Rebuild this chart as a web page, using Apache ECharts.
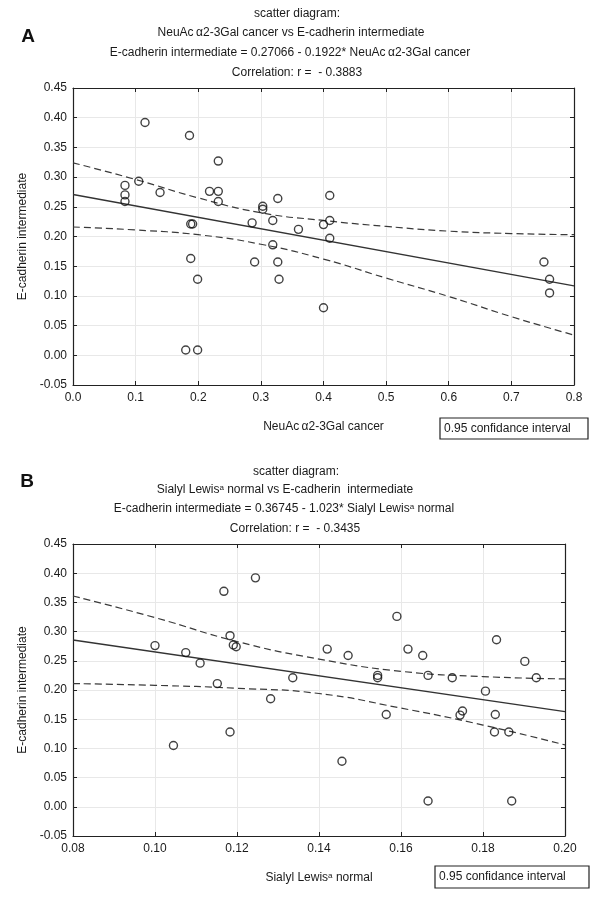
<!DOCTYPE html>
<html><head><meta charset="utf-8">
<script src="https://cdn.jsdelivr.net/npm/echarts/dist/echarts.min.js"></script>
<style>html,body{margin:0;padding:0;background:#fff}#c{width:600px;height:902px}</style>
</head><body><div id="c"></div>
<script>
// ---------- Data: panel A ----------
const aX = [0.115,0.186,0.232,0.083,0.105,0.083,0.083,0.139,0.218,0.232,0.232,0.188,0.191,0.188,0.199,0.180,0.199,0.303,0.303,0.327,0.286,0.319,0.319,0.290,0.327,0.329,0.360,0.410,0.400,0.410,0.410,0.400,0.752,0.761,0.761];
const aY = [0.392,0.370,0.327,0.286,0.293,0.270,0.259,0.274,0.276,0.276,0.259,0.221,0.221,0.163,0.128,0.009,0.009,0.251,0.246,0.264,0.223,0.227,0.186,0.157,0.157,0.128,0.212,0.269,0.220,0.227,0.197,0.080,0.157,0.128,0.105];
const regAX = [0, 0.8];
const regAY = [0.2707, 0.1169];
const bandAX  = [0, 0.1, 0.2, 0.3, 0.4, 0.5, 0.6, 0.7, 0.8];
const bandAUp = [0.324, 0.296, 0.265, 0.240, 0.227, 0.217, 0.209, 0.205, 0.203];
const bandALo = [0.216, 0.211, 0.203, 0.187, 0.162, 0.130, 0.099, 0.065, 0.034];

// ---------- Data: panel B ----------
const bX = [0.1000,0.1045,0.1075,0.1110,0.1152,0.1168,0.1183,0.1191,0.1198,0.1183,0.1245,0.1282,0.1336,0.1420,0.1471,0.1456,0.1543,0.1543,0.1564,0.1590,0.1617,0.1653,0.1666,0.1666,0.1725,0.1744,0.1750,0.1806,0.1830,0.1828,0.1833,0.1863,0.1870,0.1902,0.1930];
const bY = [0.276,0.105,0.264,0.246,0.211,0.369,0.293,0.277,0.274,0.128,0.392,0.185,0.221,0.270,0.259,0.078,0.225,0.221,0.158,0.326,0.270,0.259,0.225,0.010,0.221,0.157,0.164,0.198,0.158,0.128,0.286,0.128,0.010,0.249,0.221];
const regBX = [0.08, 0.20];
const regBY = [0.2856, 0.1628];
const bandBX  = [0.08, 0.10, 0.12, 0.14, 0.16, 0.18, 0.20];
const bandBUp = [0.361, 0.324, 0.283, 0.253, 0.232, 0.223, 0.219];
const bandBLo = [0.211, 0.208, 0.203, 0.194, 0.169, 0.140, 0.106];

// ---------- Axis ticks ----------
const yTicks = {min: -0.05, max: 0.45, interval: 0.05};
const xTicksA = {min: 0, max: 0.8, interval: 0.1};
const xTicksB = {min: 0.08, max: 0.20, interval: 0.02};

const titleA = ['scatter diagram:', 'NeuAc\u2009α2-3Gal cancer vs E-cadherin intermediate',
  'E-cadherin intermediate = 0.27066 - 0.1922* NeuAc\u2009α2-3Gal cancer', 'Correlation: r =  - 0.3883'];
const titleB = ['scatter diagram:', 'Sialyl Lewis{sup|a} normal vs E-cadherin  intermediate',
  'E-cadherin intermediate = 0.36745 - 1.023* Sialyl Lewis{sup|a} normal', 'Correlation: r =  - 0.3435'];
const ciLabel = '0.95 confidance interval';

const FONT = '"Liberation Sans", Arial, Helvetica, sans-serif';
const TXT = '#1a1a1a';
const zip = (xs, ys) => xs.map((x, i) => [x, ys[i]]);
const supRich = {sup: {fontSize: 8, fontFamily: FONT, color: TXT, verticalAlign: 'top', padding: [0, 0, 3, 0]}};

function xAxesFor(g, t, digits, name) {
  return [{
    type: 'value', gridIndex: g, min: t.min, max: t.max, interval: t.interval, position: 'bottom',
    axisLine: {show: true, onZero: false, lineStyle: {color: '#222', width: 1.2}},
    axisTick: {show: true, inside: true, length: 4, lineStyle: {color: '#222'}},
    axisLabel: {margin: 7, fontSize: 12, color: TXT, fontFamily: FONT, formatter: v => v.toFixed(digits)},
    splitLine: {show: true, lineStyle: {color: '#e8e8e8', width: 1}},
    name: name, nameLocation: 'middle', nameGap: 36,
    nameTextStyle: {fontSize: 12, color: TXT, fontFamily: FONT, rich: supRich}
  }, {
    type: 'value', gridIndex: g, min: t.min, max: t.max, interval: t.interval, position: 'top',
    axisLine: {show: true, onZero: false, lineStyle: {color: '#222', width: 1.2}},
    axisTick: {show: true, inside: true, length: 4, lineStyle: {color: '#222'}},
    axisLabel: {show: false}, splitLine: {show: false}
  }];
}
function yAxesFor(g) {
  return [{
    type: 'value', gridIndex: g, min: yTicks.min, max: yTicks.max, interval: yTicks.interval, position: 'left',
    axisLine: {show: true, onZero: false, lineStyle: {color: '#222', width: 1.2}},
    axisTick: {show: true, inside: true, length: 4, lineStyle: {color: '#222'}},
    axisLabel: {margin: 6, fontSize: 12, color: TXT, fontFamily: FONT, formatter: v => v.toFixed(2)},
    splitLine: {show: true, lineStyle: {color: '#e8e8e8', width: 1}},
    name: 'E-cadherin intermediate', nameLocation: 'middle', nameGap: 44,
    nameTextStyle: {fontSize: 12, color: TXT, fontFamily: FONT}
  }, {
    type: 'value', gridIndex: g, min: yTicks.min, max: yTicks.max, interval: yTicks.interval, position: 'right',
    axisLine: {show: true, onZero: false, lineStyle: {color: '#222', width: 1.2}},
    axisTick: {show: true, inside: true, length: 4, lineStyle: {color: '#222'}},
    axisLabel: {show: false}, splitLine: {show: false}
  }];
}

function seriesFor(xi, yi, px, py, rx, ry, bx, bu, bl) {
  const dash = {color: '#3a3a3a', width: 1.2, type: [7, 4]};
  return [
    {type: 'line', xAxisIndex: xi, yAxisIndex: yi, name: ciLabel, data: zip(bx, bu), symbol: 'none',
     smooth: 0.5, lineStyle: dash, z: 2, silent: true},
    {type: 'line', xAxisIndex: xi, yAxisIndex: yi, name: ciLabel, data: zip(bx, bl), symbol: 'none',
     smooth: 0.5, lineStyle: dash, z: 2, silent: true},
    {type: 'line', xAxisIndex: xi, yAxisIndex: yi, name: 'regression', data: zip(rx, ry), symbol: 'none',
     lineStyle: {color: '#333', width: 1.3}, z: 3, silent: true},
    {type: 'scatter', xAxisIndex: xi, yAxisIndex: yi, name: 'data', data: zip(px, py),
     symbol: 'circle', symbolSize: 8,
     itemStyle: {color: 'rgba(255,255,255,0)', borderColor: '#111', borderWidth: 1.4}, z: 5}
  ];
}

function titleTexts(lines, ys, xs) {
  return lines.map((t, i) => ({
    type: 'text', x: xs[i], y: ys[i], silent: true,
    style: {text: t, fill: TXT, fontSize: 12, fontFamily: FONT, align: 'center', verticalAlign: 'middle', rich: supRich}
  }));
}
function ciBox(x, y, w, h) {
  return [
    {type: 'rect', shape: {x: x, y: y, width: w, height: h}, silent: true,
     style: {fill: '#fff', stroke: '#222', lineWidth: 1.2}},
    {type: 'text', x: x + 4, y: y + h / 2, silent: true,
     style: {text: ciLabel, fill: TXT, fontSize: 12, fontFamily: FONT, align: 'left', verticalAlign: 'middle'}}
  ];
}

const chart = echarts.init(document.getElementById('c'), null, {renderer: 'canvas', width: 600, height: 902});
chart.setOption({
  backgroundColor: '#fff',
  animation: false,
  grid: [
    {left: 73, top: 88, width: 501, height: 297},
    {left: 73, top: 544, width: 492, height: 292}
  ],
  xAxis: [...xAxesFor(0, xTicksA, 1, 'NeuAc\u2009α2-3Gal cancer'), ...xAxesFor(1, xTicksB, 2, 'Sialyl Lewis{sup|a} normal')],
  yAxis: [...yAxesFor(0), ...yAxesFor(1)],
  series: [
    ...seriesFor(0, 0, aX, aY, regAX, regAY, bandAX, bandAUp, bandALo),
    ...seriesFor(2, 2, bX, bY, regBX, regBY, bandBX, bandBUp, bandBLo)
  ],
  graphic: [
    {type: 'text', x: 28, y: 37, silent: true,
     style: {text: 'A', fill: '#111', fontSize: 19, fontWeight: 'bold', fontFamily: FONT, align: 'center', verticalAlign: 'middle'}},
    {type: 'text', x: 27, y: 482, silent: true,
     style: {text: 'B', fill: '#111', fontSize: 19, fontWeight: 'bold', fontFamily: FONT, align: 'center', verticalAlign: 'middle'}},
    ...titleTexts(titleA, [14, 33, 53, 73], [297, 291, 290, 297]),
    ...titleTexts(titleB, [472, 490, 509, 529], [296, 285, 284, 295]),
    ...ciBox(440, 418, 148, 21),
    ...ciBox(435, 866, 154, 22)
  ]
});
</script></body></html>
